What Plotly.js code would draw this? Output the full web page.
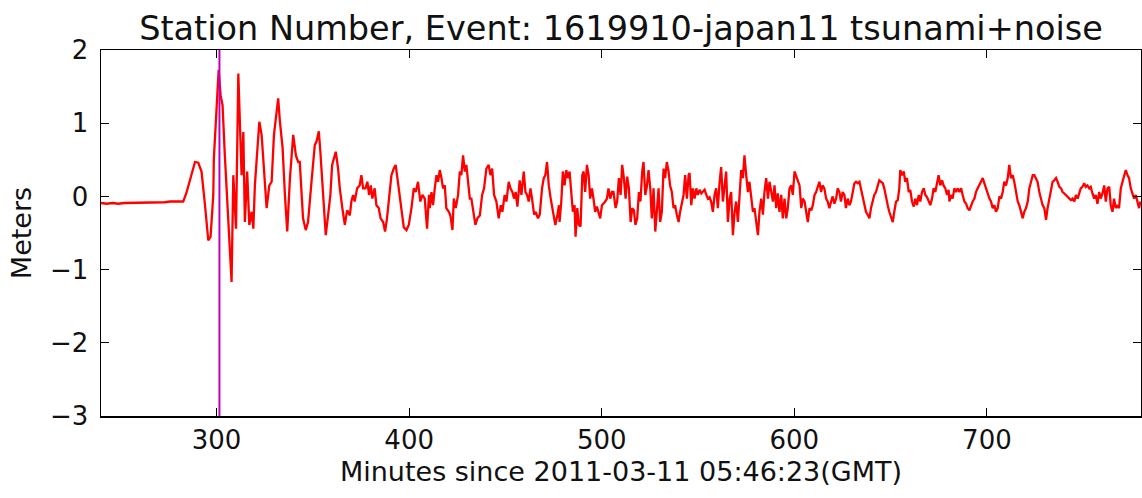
<!DOCTYPE html>
<html>
<head>
<meta charset="utf-8">
<script src="https://cdn.plot.ly/plotly-3.0.1.min.js"></script>
<style>html,body{margin:0;padding:0;background:#fff;}#chart{width:1142px;height:498px;}</style>
</head>
<body>
<div id="chart"></div>
<script>
// Time since event (minutes) and sea-surface height (meters)
const minutes = [
240,243,246,249,252,255,258,261,264,267,270,273,275.8,279,282.7,
284.5,286.2,288.8,290.5,292.2,294.0,295.7,296.9,298.3,298.6,300.0,301.1,302.1,303.1,304.3,306.1,307.8,308.7,310.1,311.3,312.1,313.0,313.9,314.7,315.9,317.0,318.2,319.1,319.9,321.1,322.2,323.4,324.6,326.0,327.4,328.6,329.8,330.8,332.0,332.9,334.3,335.5,336.7,338.1,339.8,341.2,342.4,
343.2,344.9,346.3,347.5,349.3,351.0,351.9,353.1,353.9,354.8,355.7,356.7,357.9,359.1,360.0,361.0,361.9,363.1,364.0,365.3,366.6,367.8,369.2,370.0,370.9,371.7,373.0,374.3,375.2,376.1,377.3,378.3,379.2,380.1,380.9,382.1,383.0,384.2,385.2,386.5,387.5,388.5,389.6,390.8,392.0,393.0,393.9,395.1,396.3,397.2,398.6,399.8,401.2,402.4,403.4,404.6,405.8,406.9,408.1,409.3,410.3,
410.7,411.6,412.4,413.3,414.2,415.0,415.9,416.8,417.6,418.5,419.3,420.6,421.4,422.5,423.2,424.2,425.4,426.3,427.1,428.0,428.9,429.7,430.6,431.5,432.3,433.2,434.4,435.4,436.7,437.9,438.9,440.1,441.3,442.2,443.1,444.1,445.3,446.5,447.6,448.4,449.6,450.5,451.7,452.6,453.6,454.5,455.3,456.2,457.4,458.3,459.5,460.4,461.2,462.1,463.0,463.8,464.9,465.7,466.9,467.8,469.0,469.9,470.7,471.6,472.5,473.5,474.7,475.9,477.0,477.8,
478.1,479.0,479.8,480.7,481.6,482.4,483.3,484.2,485.0,485.9,486.4,487.3,488.1,489.0,489.9,490.6,491.4,492.3,493.2,494.0,494.9,495.7,496.6,497.5,498.3,499.2,500.1,500.9,501.8,502.7,503.5,504.4,505.3,506.1,507.2,508.0,508.9,509.8,510.6,511.5,512.4,513.2,514.1,515.0,515.8,516.7,517.5,518.4,519.3,520.1,521.0,521.7,522.6,523.4,524.3,525.2,526.0,526.9,527.8,528.6,529.5,530.3,531.2,532.1,532.9,533.8,534.7,535.5,536.4,537.3,538.1,539.0,539.9,540.7,541.6,542.5,543.3,544.2,545.1,
545.6,546.5,547.3,548.2,549.1,549.9,550.8,551.7,552.5,553.4,554.3,555.1,556.0,556.8,557.7,558.6,559.4,560.3,561.2,562.0,562.9,563.8,564.6,565.5,566.4,567.2,568.1,569.0,569.8,570.7,571.6,572.4,573.3,574.1,575.0,575.9,576.7,577.6,578.5,579.3,580.2,581.1,581.9,582.8,583.7,584.5,585.4,586.3,587.1,588.0,588.9,589.7,590.6,591.4,592.3,593.2,594.0,594.9,595.8,596.6,597.5,598.4,599.2,600.1,601.0,601.8,602.7,603.6,604.4,605.3,606.2,607.0,607.9,608.8,609.6,610.5,611.3,612.2,
613.0,613.9,614.7,615.6,616.5,617.3,618.2,619.1,619.9,620.8,621.7,622.5,623.4,624.2,625.1,626.0,626.8,627.7,628.6,629.4,630.3,631.2,632.0,632.9,633.8,634.6,635.5,636.4,637.2,638.1,639.0,639.8,640.7,641.5,642.4,643.3,644.1,645.0,645.9,646.7,647.6,648.5,649.3,650.2,651.1,651.9,652.8,653.7,654.5,655.0,655.9,656.8,657.6,658.5,659.4,660.2,661.1,662.0,662.8,663.7,664.6,665.4,666.3,667.2,668.0,668.9,669.7,670.6,671.5,672.3,673.2,674.1,674.9,675.8,676.7,677.5,678.4,679.3,680.1,
680.5,681.4,682.2,683.1,684.0,684.8,685.7,686.6,687.4,688.3,689.2,690.0,690.9,691.7,692.6,693.5,694.3,695.2,696.1,696.9,697.8,698.7,699.5,700.4,701.3,702.1,703.0,703.9,704.7,705.6,706.5,707.3,708.2,709.0,709.9,710.8,711.6,712.5,713.4,714.2,715.1,716.0,716.8,717.7,718.6,719.4,720.3,721.2,722.0,722.9,723.8,724.6,725.5,726.3,727.2,728.1,728.9,729.8,730.7,731.5,732.4,733.3,734.1,735.0,735.9,736.7,737.6,738.5,739.3,740.2,741.1,741.9,742.8,743.6,744.5,745.4,746.2,747.1,
747.9,748.7,749.6,750.5,751.3,752.2,753.1,753.9,754.8,755.7,756.5,757.4,758.3,759.1,760.0,760.9,761.7,762.6,763.5,764.3,765.2,766.0,766.9,767.8,768.6,769.5,770.4,771.2,772.1,773.0,773.8,774.7,775.6,776.4,777.3,778.2,779.0,779.7
];
const meters = [
-0.09,-0.10,-0.09,-0.10,-0.09,-0.09,-0.08,-0.09,-0.08,-0.08,-0.09,-0.08,-0.07,-0.07,-0.07,
0.06,0.22,0.47,0.46,0.34,-0.12,-0.60,-0.55,0.02,0.52,1.11,1.73,1.38,1.25,0.56,-0.25,-1.17,0.29,-0.44,1.68,1.02,0.29,0.88,-0.35,0.34,-0.39,-0.21,-0.44,0.15,0.66,1.02,0.84,0.34,-0.16,0.15,0.20,0.84,1.11,1.34,1.02,0.66,0.02,-0.48,0.25,0.84,0.56,0.47,
0.47,-0.30,-0.46,-0.35,0.20,0.70,0.75,0.89,0.61,0.20,-0.21,-0.53,-0.26,0.02,0.43,0.52,0.61,0.38,0.11,-0.16,-0.39,-0.19,-0.26,-0.07,0.02,-0.07,0.11,0.15,0.29,0.11,0.11,0.20,0.02,0.15,-0.03,0.11,-0.12,-0.16,-0.30,-0.35,-0.48,-0.30,0.02,0.29,0.38,0.43,0.25,0.02,-0.26,-0.42,-0.46,-0.39,-0.16,0.11,0.06,0.20,-0.07,0.02,-0.03,-0.44,0.02,
-0.16,0.06,-0.12,0.11,0.29,0.20,0.36,0.25,0.11,0.15,-0.16,-0.21,-0.26,-0.46,-0.03,-0.16,0.02,0.34,0.29,0.56,0.34,0.43,0.20,-0.03,-0.03,-0.16,-0.39,-0.30,-0.26,0.02,0.11,0.38,0.43,0.29,0.38,0.02,-0.07,-0.30,-0.12,-0.21,0.02,-0.07,0.20,0.11,0.06,-0.03,0.06,-0.14,0.22,0.02,0.34,0.06,0.02,-0.07,0.11,-0.03,-0.25,-0.21,-0.30,-0.25,0.11,0.25,0.29,0.47,0.15,-0.03,-0.21,-0.39,-0.25,-0.12,
-0.35,-0.07,0.34,0.15,0.36,0.25,0.34,-0.03,-0.21,-0.12,-0.55,-0.16,-0.39,-0.41,0.29,0.34,0.06,0.43,0.29,-0.03,0.11,-0.03,-0.21,-0.14,-0.21,-0.30,-0.12,-0.10,-0.07,-0.03,0.11,-0.03,0.06,0.06,-0.16,-0.07,0.25,0.02,0.43,0.25,-0.03,0.27,0.11,-0.35,-0.16,-0.19,-0.39,-0.30,0.06,-0.07,0.34,0.47,0.02,0.13,0.36,0.11,-0.30,0.11,-0.48,-0.21,0.11,-0.35,-0.21,0.38,0.25,0.47,0.34,0.15,0.06,-0.16,-0.12,-0.25,-0.35,-0.21,-0.07,0.02,0.29,-0.03,0.29,
0.32,-0.12,0.11,-0.03,0.11,0.02,0.09,0.04,0.06,0.09,0.02,-0.03,-0.01,-0.07,-0.21,0.02,0.11,-0.16,0.20,0.40,-0.07,0.15,0.34,-0.35,-0.03,0.06,-0.53,-0.21,-0.07,-0.35,0.11,0.36,0.25,0.56,0.29,0.06,0.20,0.02,-0.21,-0.16,-0.35,-0.53,-0.21,-0.03,-0.25,0.06,0.25,-0.03,0.20,0.06,-0.07,0.15,-0.16,0.04,-0.21,0.02,-0.30,-0.03,-0.30,-0.16,0.11,0.15,0.02,0.34,0.27,0.20,0.15,-0.16,-0.03,-0.07,-0.21,-0.35,-0.16,-0.19,-0.12,0.02,0.06,0.15,
0.20,0.06,0.15,0.11,-0.03,-0.07,-0.16,-0.07,0.00,-0.10,-0.03,0.11,0.06,-0.07,0.06,0.02,-0.16,-0.03,-0.12,-0.07,0.06,0.18,0.20,0.18,0.20,0.11,-0.03,-0.12,-0.21,-0.25,-0.30,-0.16,-0.07,0.02,0.06,0.15,0.22,0.20,0.18,0.11,-0.03,-0.12,-0.21,-0.28,-0.35,-0.21,-0.07,-0.05,0.11,0.36,0.29,0.34,0.20,0.25,0.06,0.09,-0.07,-0.14,-0.03,-0.12,0.02,-0.07,0.06,0.11,0.02,-0.01,-0.07,-0.12,-0.03,0.11,0.06,0.20,0.29,0.15,0.22,0.15,0.11,0.02,0.09,
-0.07,0.02,-0.03,0.11,0.06,0.11,0.06,0.11,0.02,-0.07,-0.10,-0.16,-0.19,-0.12,-0.07,-0.03,0.06,0.11,0.15,0.20,0.25,0.18,0.11,0.02,-0.03,-0.07,-0.16,-0.12,-0.21,-0.16,0.00,-0.03,0.06,0.20,0.15,0.25,0.43,0.25,0.29,0.20,0.06,-0.07,-0.12,-0.21,-0.30,-0.21,-0.16,-0.07,0.11,0.20,0.29,0.29,0.25,0.20,0.06,-0.03,-0.12,-0.16,-0.32,-0.16,-0.03,0.11,0.20,0.22,0.25,0.20,0.13,0.11,0.06,0.04,0.02,-0.01,-0.03,-0.05,-0.03,-0.07,0.02,-0.03,
0.06,0.11,0.13,0.18,0.13,0.15,0.11,0.13,0.04,-0.03,0.02,-0.10,0.06,-0.03,0.04,0.15,-0.07,0.11,0.13,-0.12,-0.21,-0.03,-0.16,-0.12,-0.16,0.11,0.20,0.29,0.36,0.29,0.25,0.11,0.02,-0.03,0.02,-0.07,-0.16,-0.07
];
const arrivalMinute = 301.5;
const xTickVals = [300, 400, 500, 600, 700];
const xTickText = ["300", "400", "500", "600", "700"];
const yTickVals = [-3, -2, -1, 0, 1, 2];
const yTickText = ["\u22123", "\u22122", "\u22121", "0", "1", "2"];

const font = "DejaVu Sans, sans-serif";
const txt = "#111";
const trace = {
  x: minutes, y: meters, type: "scatter", mode: "lines",
  line: {color: "#ff0000", width: 2.3}, hoverinfo: "none"
};
const axisCommon = {
  showgrid: false, zeroline: false, showline: true, linecolor: "#000", linewidth: 1.5,
  mirror: "ticks", ticks: "inside", ticklen: 8, tickwidth: 1, tickcolor: "#000",
  tickfont: {family: font, size: 26, color: txt}
};
const layout = {
  width: 1142, height: 498, autosize: false,
  margin: {l: 101, r: 1, t: 50, b: 82},
  paper_bgcolor: "#fff", plot_bgcolor: "#fff",
  showlegend: false,
  title: {text: "Station Number, Event: 1619910-japan11 tsunami+noise",
    font: {family: font, size: 33.5, color: txt},
    x: 0.5, xref: "paper", y: 0.944, yref: "container", yanchor: "middle"},
  xaxis: Object.assign({}, axisCommon, {
    range: [240, 780], tickvals: xTickVals, ticktext: xTickText,
    title: {text: "Minutes since 2011-03-11 05:46:23(GMT)", font: {family: font, size: 27, color: txt}, standoff: 8}
  }),
  yaxis: Object.assign({}, axisCommon, {
    range: [-3, 2], tickvals: yTickVals, ticktext: yTickText, ticklabelstandoff: 6,
    title: {text: "Meters", font: {family: font, size: 27, color: txt}, standoff: 10}
  }),
  shapes: [{type: "line", xref: "x", yref: "paper", x0: arrivalMinute, x1: arrivalMinute, y0: 0, y1: 1,
    line: {color: "#bf00bf", width: 2}}]
};
Plotly.newPlot("chart", [trace], layout, {staticPlot: true, displayModeBar: false});
</script>
</body>
</html>
